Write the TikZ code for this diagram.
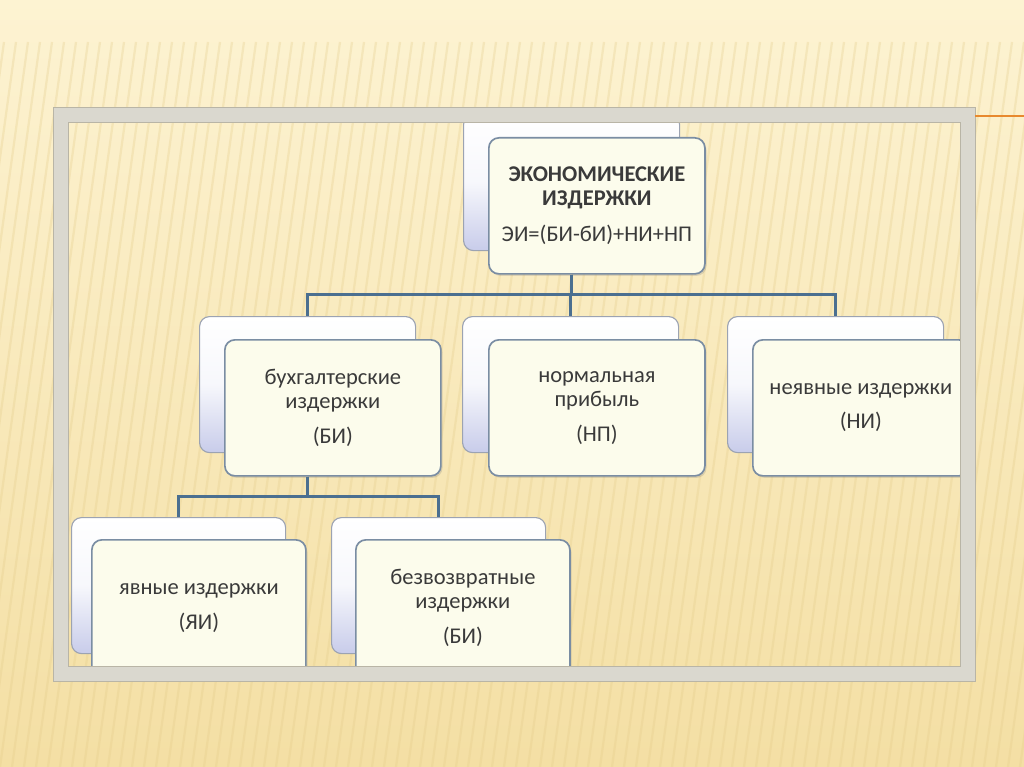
\documentclass[tikz,border=0pt]{standalone}
\usepackage{fontspec}
\setmainfont{Carlito}
\usetikzlibrary{calc,positioning,shadows}
\definecolor{bgtop}{HTML}{FDF3D2}
\definecolor{bgbottom}{HTML}{F4DFA4}
\definecolor{stripe}{HTML}{E4CC8A}
\definecolor{framegray}{HTML}{DAD8CF}
\definecolor{frameedge}{HTML}{B9B5A6}
\definecolor{cardedge}{HTML}{7A8DA3}
\definecolor{cardfill}{HTML}{FCFCEC}
\definecolor{backedge}{HTML}{9CA3B2}
\definecolor{backblue}{HTML}{C8CCEA}
\definecolor{linkblue}{HTML}{4B6F90}
\definecolor{txtgray}{HTML}{3A3A3A}
\definecolor{accent}{HTML}{E8892E}
\tikzset{%
    back_card/.style={%
        rectangle, rounded corners=0.25cm, draw=backedge, line width=0.8pt,
        top color=white, bottom color=backblue, middle color=white!85!backblue,
        minimum width=5.4cm, minimum height=3.4cm, anchor=north west
    },
    front_card/.style={%
        rectangle, rounded corners=0.25cm, draw=cardedge, line width=1.2pt, fill=cardfill,
        minimum width=5.4cm, minimum height=3.4cm, anchor=north west, align=center,
        text=txtgray, font=\fontsize{16}{17}\selectfont,
        drop shadow={opacity=0.25, shadow xshift=0.04cm, shadow yshift=-0.05cm}
    },
    small_card/.style={%
        minimum width=5.35cm
    },
    connector/.style={%
        draw=linkblue, line width=2.2pt
    },
    frame_border/.style={%
        draw=framegray, line width=0.375cm
    },
    frame_edge/.style={%
        draw=frameedge, line width=0.6pt
    },
}

\begin{document}
\begin{tikzpicture}[x=0.025cm, y=-0.025cm]
      \useasboundingbox (0,0) rectangle (1024,767);
      \fill[top color=bgtop, bottom color=bgbottom] (0,0) rectangle (1024,767);
      \foreach \i in {-20,-8,...,1140}
        \draw[stripe, line width=1.6pt, opacity=0.3] (\i,42) -- (\i-100,767);

      \node[back_card] (EIback) at (463,114) {};
      \node[front_card] (EI) at (488,137) {\textbf{ЭКОНОМИЧЕСКИЕ}\\\textbf{ИЗДЕРЖКИ}\\[9pt]ЭИ=(БИ-бИ)+НИ+НП};

      \node[back_card] (BIback) at (199,316) {};
      \node[front_card] (BI) at (224,339) {бухгалтерские\\издержки\\[8pt](БИ)};
      \node[back_card] (NPback) at (462,316) {};
      \node[front_card] (NP) at (488,339) {нормальная\\прибыль\\[8pt](НП)};
      \node[back_card] (NIback) at (727,316) {};
      \node[front_card] (NI) at (752,339) {неявные издержки\\[7pt](НИ)};

      \node[back_card, small_card] (YaIback) at (71,517) {};
      \node[front_card, small_card] (YaI) at (91,539) {явные издержки\\[8pt](ЯИ)};
      \node[back_card, small_card] (BezIback) at (331,517) {};
      \node[front_card, small_card] (BezI) at (355,539) {безвозвратные\\издержки\\[8pt](БИ)};

      \draw[connector] (EIback.south |- EI.south) -- ++(0,20) -| (BIback.north);
      \draw[connector] (EIback.south |- EI.south) -- ++(0,20) -| (NPback.north);
      \draw[connector] (EIback.south |- EI.south) -- ++(0,20) -| (NIback.north);
      \draw[connector] (BIback.south |- BI.south) -- ++(0,20) -| (YaIback.north);
      \draw[connector] (BIback.south |- BI.south) -- ++(0,20) -| (BezIback.north);

      \draw[frame_border] (61,115) rectangle (967.5,674);
      \draw[frame_edge] (53.5,107.5) rectangle (975,681.5);
      \draw[frame_edge] (68.5,122.5) rectangle (960,666.5);
      \draw[accent, line width=1.5pt] (975,116) -- (1024,116);
    \end{tikzpicture}
\end{document}
